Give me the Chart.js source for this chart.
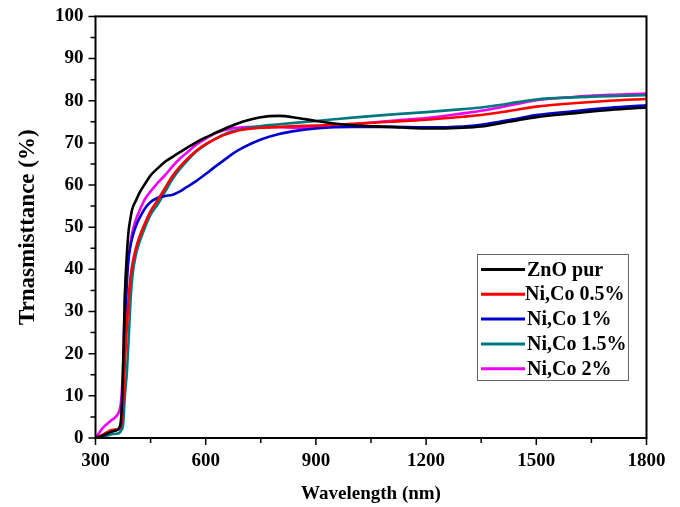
<!DOCTYPE html>
<html>
<head>
<meta charset="utf-8">
<script src="https://cdn.jsdelivr.net/npm/chart.js@4.4.0/dist/chart.umd.min.js"></script>
<style>
html,body{margin:0;padding:0;background:#fff;}
#wrap{width:680px;height:507px;position:relative;}
</style>
</head>
<body>
<div id="wrap"><canvas id="c" width="680" height="507"></canvas></div>
<script>
const wavelengths = [300,320,340,355,365,370,375,380,385,390,395,400,410,420,435,450,470,490,510,530,550,575,600,625,650,675,700,750,800,850,900,950,1000,1100,1200,1300,1350,1400,1450,1500,1600,1700,1800];
const znoPur = [0,0.6,1.4,1.8,2.5,5,16,34,43,49,52,54.3,56.3,58.2,60.3,62.3,64,65.6,66.7,67.8,68.9,70.2,71.3,72.3,73.3,74.2,75,76.1,76.4,75.9,75.2,74.6,74.2,73.8,73.4,73.6,73.9,74.6,75.4,76.1,77,77.8,78.4];
const nico05 = [0,0.8,1.8,2,2.3,3.5,8,18,26,33,38,41,45,47.8,51,53.8,56.5,59.4,62.2,64.4,66.2,68.2,69.7,70.9,71.9,72.6,73.1,73.6,73.8,74,74.1,74.3,74.5,75,75.5,76.2,76.6,77.2,77.9,78.6,79.4,80,80.4];
const nico1 = [0,0.5,1.5,1.8,2.2,3.5,10,24,36,42.5,45.5,47.5,50.3,52.2,54.5,56,57,57.4,57.7,58.5,59.6,61,62.6,64.3,65.9,67.5,68.8,70.8,72.1,72.9,73.4,73.7,73.8,73.8,73.7,73.9,74.3,75,75.8,76.6,77.5,78.3,78.9];
const nico15 = [0,0.3,0.8,1,1.2,1.8,3,10,15,23,32,38,43.5,46.5,50,53,55.5,58.5,61.5,63.8,65.8,68,69.6,70.9,72,72.8,73.3,74,74.4,74.8,75.2,75.6,76,76.7,77.3,78,78.4,79,79.7,80.3,80.8,81.1,81.3];
const nico2 = [0,2.4,4,5,6.5,9,17,33,39,43,46,48.7,51.8,54,56.7,58.5,60.6,62.4,64.5,66.3,67.8,69.6,71,72.2,73,73.5,73.7,73.8,73.7,73.6,73.8,74.1,74.4,75.2,75.9,77,77.6,78.4,79.3,80.1,80.9,81.4,81.7];
const seriesLabels = ['ZnO pur','Ni,Co 0.5%','Ni,Co 1%','Ni,Co 1.5%','Ni,Co 2%'];
const seriesValues = [znoPur, nico05, nico1, nico15, nico2];
const seriesColors = ['#000000','#ff0000','#0000cc','#00797e','#f000f0'];
const xTitle = 'Wavelength (nm)';
const yTitle = 'Trnasmisttance (%)';

const FONT = "'Liberation Serif','Times New Roman',serif";

const datasets = seriesLabels.map((lab, i) => ({
  label: lab,
  data: wavelengths.map((w, j) => ({x: w, y: seriesValues[i][j]})),
  borderColor: seriesColors[i],
  backgroundColor: seriesColors[i],
  borderWidth: 2.6,
  pointRadius: 0,
  cubicInterpolationMode: 'monotone',
  fill: false
}));

const framePlugin = {
  id: 'frame',
  afterDraw(chart) {
    const ctx = chart.ctx;
    const a = chart.chartArea;
    const xs = chart.scales.x, ys = chart.scales.y;
    ctx.save();
    ctx.strokeStyle = '#000';
    ctx.lineWidth = 2;
    ctx.strokeRect(a.left, a.top, a.right - a.left, a.bottom - a.top);
    ctx.lineWidth = 1.5;
    ctx.beginPath();
    xs.ticks.forEach(t => {
      const px = xs.getPixelForValue(t.value);
      const major = t.value % 300 === 0;
      ctx.moveTo(px, a.bottom);
      ctx.lineTo(px, a.bottom + (major ? 7 : 5));
    });
    ys.ticks.forEach(t => {
      const py = ys.getPixelForValue(t.value);
      const major = t.value % 10 === 0;
      ctx.moveTo(a.left, py);
      ctx.lineTo(a.left - (major ? 7 : 5), py);
    });
    ctx.stroke();

    // legend
    const bx = 477, by = 254, bw = 151, bh = 126;
    ctx.fillStyle = '#fff';
    ctx.fillRect(bx, by, bw, bh);
    ctx.strokeStyle = '#666';
    ctx.lineWidth = 1;
    ctx.strokeRect(bx + 0.5, by + 0.5, bw, bh);
    ctx.font = "bold 20px " + FONT;
    ctx.textBaseline = 'middle';
    ctx.textAlign = 'left';
    chart.data.datasets.forEach((ds, i) => {
      const y = 269.5 + i * 24.8;
      ctx.strokeStyle = ds.borderColor;
      ctx.lineWidth = 3;
      ctx.beginPath();
      ctx.moveTo(481, y);
      ctx.lineTo(525, y);
      ctx.stroke();
      ctx.fillStyle = '#000';
      ctx.fillText(ds.label, i === 1 ? 525 : 527, y + 1);
    });
    ctx.restore();
  }
};

new Chart(document.getElementById('c'), {
  type: 'line',
  data: { datasets },
  options: {
    responsive: false,
    animation: false,
    devicePixelRatio: 1,
    layout: { padding: { top: 16, right: 33.5, left: 0, bottom: 0 } },
    plugins: { legend: { display: false }, tooltip: { enabled: false } },
    scales: {
      x: {
        type: 'linear',
        min: 300, max: 1800,
        afterFit(s) { s.height = 69; },
        border: { display: false },
        grid: { display: true, drawOnChartArea: false, drawTicks: true, tickLength: 7, tickColor: 'rgba(0,0,0,0)' },
        ticks: {
          stepSize: 150, autoSkip: false, maxRotation: 0, padding: 5,
          color: '#000',
          font: { family: FONT, size: 19, weight: 'bold' },
          callback: v => (v % 300 === 0 ? String(v) : '')
        },
        title: { display: true, text: xTitle, color: '#000', padding: { top: 0, bottom: 1.6 },
          font: { family: FONT, size: 19, weight: 'bold' } }
      },
      y: {
        min: 0, max: 100,
        afterFit(s) { s.width = 95.5; },
        border: { display: false },
        grid: { display: true, drawOnChartArea: false, drawTicks: true, tickLength: 7, tickColor: 'rgba(0,0,0,0)' },
        ticks: {
          stepSize: 5, autoSkip: false, padding: 5,
          color: '#000',
          font: { family: FONT, size: 19, weight: 'bold' },
          callback: v => (v % 10 === 0 ? String(v) : '')
        },
        title: { display: true, text: yTitle, color: '#000', padding: { top: 14, bottom: 0 },
          font: { family: FONT, size: 23, weight: 'bold' } }
      }
    }
  },
  plugins: [framePlugin]
});
</script>
</body>
</html>
